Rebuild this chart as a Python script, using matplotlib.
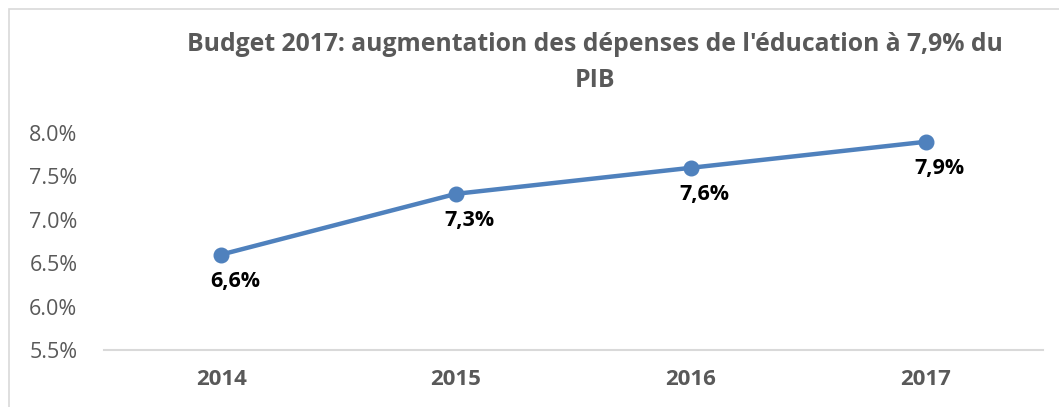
import matplotlib
matplotlib.use("Agg")
from matplotlib import pyplot as plt
from matplotlib.patches import Rectangle
from matplotlib.ticker import FuncFormatter
from matplotlib.transforms import offset_copy

years = ['2014', '2015', '2016', '2017']
education_pct = [6.6, 7.3, 7.6, 7.9]
value_labels = ['6,6%', '7,3%', '7,6%', '7,9%']
y_ticks = [5.5, 6.0, 6.5, 7.0, 7.5, 8.0]
title = "Budget 2017: augmentation des dépenses de l'éducation à 7,9% du\nPIB"

plt.rcParams['font.family'] = ['Open Sans', 'DejaVu Sans']

fig = plt.figure(figsize=(10.59, 4.07), dpi=100)
ax = fig.add_axes([0.098, 0.140, 0.887, 0.533])

x = range(len(years))
ax.plot(x, education_pct, color='#4F81BD', linewidth=3.2, marker='o',
        markersize=10.5, clip_on=False, solid_capstyle='round')

for i, (v, lab) in enumerate(zip(education_pct, value_labels)):
    tr = offset_copy(ax.transData, fig=fig, x=10, y=-12, units='points')
    ax.text(i, v, lab, transform=tr, ha='center', va='top',
            fontsize=15.5, fontweight='bold', color='black')

ax.set_xlim(-0.5, len(years) - 0.5)
ax.set_ylim(5.5, 8.0)
ax.set_xticks(list(x))
ax.set_xticklabels(years, fontsize=16, fontweight='bold', color='#595959')
ax.set_yticks(y_ticks)
ax.yaxis.set_major_formatter(FuncFormatter(lambda v, p: f'{v:.1f}%'))
ax.tick_params(axis='y', labelsize=15.5, labelcolor='#595959', length=0, pad=19)
ax.tick_params(axis='x', length=0, pad=14)

for s in ['top', 'right', 'left']:
    ax.spines[s].set_visible(False)
ax.spines['bottom'].set_color('#D9D9D9')
ax.spines['bottom'].set_linewidth(1.5)

fig.text(0.5615, 0.846, title, ha='center', va='center', fontsize=17.8,
         fontweight='bold', color='#595959', linespacing=1.55)

fig.patches.append(Rectangle((9 / 1059, -0.1), 1.2, 1 - 9 / 407 + 0.1,
                             transform=fig.transFigure, fill=False,
                             edgecolor='#D9D9D9', linewidth=1.2))

fig.savefig('out.png', dpi=100)
